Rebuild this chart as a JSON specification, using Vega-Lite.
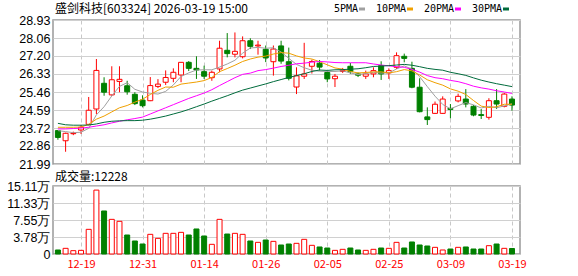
{
  "$schema": "https://vega.github.io/schema/vega-lite/v6.json",
  "background": "white",
  "padding": {"left": 5, "top": 2, "right": 0, "bottom": 0},
  "autosize": {"type": "pad"},
  "bounds": "flush",
  "spacing": 22,
  "config": {
    "view": {"stroke": "#999999", "strokeWidth": 1.5},
    "axis": {"labelFont": "Liberation Sans", "labelFontSize": 12.5, "labelColor": "#000000", "ticks": false, "domain": false, "gridColor": "#d0d0d0", "gridWidth": 1, "title": null, "labelOverlap": false, "labelFlush": false},
    "title": {"font": "Noto Sans CJK SC", "fontSize": 12, "fontWeight": "normal", "color": "#000000", "anchor": "start", "frame": "group"}
  },
  "datasets": {
    "k": [
      {"d":"12-16","o":23.60,"h":23.63,"l":23.16,"c":23.27,"vol":8900,"ma5":23.60,"ma10":23.76,"ma20":23.68,"ma30":23.95},
      {"d":"12-17","o":23.11,"h":23.50,"l":22.58,"c":23.47,"vol":12600,"ma5":23.55,"ma10":23.76,"ma20":23.68,"ma30":23.88},
      {"d":"12-18","o":23.45,"h":23.55,"l":23.38,"c":23.47,"vol":7400,"ma5":23.50,"ma10":23.76,"ma20":23.70,"ma30":23.86},
      {"d":"12-19","o":23.63,"h":23.87,"l":23.44,"c":23.76,"vol":8100,"ma5":23.52,"ma10":23.77,"ma20":23.72,"ma30":23.86},
      {"d":"12-22","o":23.90,"h":25.22,"l":23.85,"c":24.58,"vol":54800,"ma5":23.71,"ma10":23.90,"ma20":23.76,"ma30":23.87},
      {"d":"12-23","o":24.64,"h":27.05,"l":24.40,"c":26.50,"vol":142000,"ma5":24.36,"ma10":24.15,"ma20":23.82,"ma30":23.92},
      {"d":"12-24","o":25.88,"h":26.17,"l":25.28,"c":25.45,"vol":95600,"ma5":24.75,"ma10":24.30,"ma20":23.88,"ma30":24.00},
      {"d":"12-25","o":25.32,"h":26.70,"l":25.28,"c":26.05,"vol":77000,"ma5":25.27,"ma10":24.50,"ma20":23.97,"ma30":24.05},
      {"d":"12-26","o":25.97,"h":26.70,"l":25.45,"c":26.07,"vol":72600,"ma5":25.73,"ma10":24.70,"ma20":24.05,"ma30":24.07},
      {"d":"12-29","o":25.76,"h":26.00,"l":25.33,"c":25.47,"vol":42200,"ma5":25.91,"ma10":24.81,"ma20":24.12,"ma30":24.08},
      {"d":"12-30","o":25.35,"h":25.45,"l":24.83,"c":24.90,"vol":28900,"ma5":25.59,"ma10":24.97,"ma20":24.18,"ma30":24.08},
      {"d":"12-31","o":25.07,"h":25.30,"l":24.72,"c":24.80,"vol":22200,"ma5":25.46,"ma10":25.11,"ma20":24.25,"ma30":24.10},
      {"d":"01-05","o":25.04,"h":26.18,"l":25.02,"c":25.77,"vol":43700,"ma5":25.40,"ma10":25.34,"ma20":24.40,"ma30":24.15},
      {"d":"01-06","o":25.73,"h":26.08,"l":25.65,"c":25.84,"vol":34800,"ma5":25.36,"ma10":25.54,"ma20":24.55,"ma30":24.22},
      {"d":"01-07","o":25.93,"h":26.50,"l":25.80,"c":26.16,"vol":45900,"ma5":25.49,"ma10":25.70,"ma20":24.70,"ma30":24.30},
      {"d":"01-08","o":26.12,"h":26.60,"l":25.93,"c":26.41,"vol":45900,"ma5":25.80,"ma10":25.69,"ma20":24.85,"ma30":24.40},
      {"d":"01-09","o":26.28,"h":26.90,"l":25.93,"c":26.89,"vol":48100,"ma5":26.21,"ma10":25.84,"ma20":25.00,"ma30":24.50},
      {"d":"01-12","o":26.89,"h":26.95,"l":26.47,"c":26.60,"vol":42200,"ma5":26.38,"ma10":25.89,"ma20":25.15,"ma30":24.62},
      {"d":"01-13","o":26.60,"h":27.18,"l":26.09,"c":26.52,"vol":55600,"ma5":26.52,"ma10":25.94,"ma20":25.28,"ma30":24.75},
      {"d":"01-14","o":26.44,"h":26.73,"l":26.09,"c":26.22,"vol":40000,"ma5":26.53,"ma10":26.01,"ma20":25.41,"ma30":24.88},
      {"d":"01-15","o":26.15,"h":26.49,"l":26.00,"c":26.41,"vol":21500,"ma5":26.53,"ma10":26.16,"ma20":25.57,"ma30":25.02},
      {"d":"01-16","o":26.57,"h":27.93,"l":26.41,"c":27.57,"vol":77000,"ma5":26.66,"ma10":26.44,"ma20":25.77,"ma30":25.15},
      {"d":"01-19","o":27.47,"h":28.30,"l":27.13,"c":27.31,"vol":44400,"ma5":26.81,"ma10":26.59,"ma20":25.96,"ma30":25.28},
      {"d":"01-20","o":27.28,"h":28.33,"l":27.13,"c":27.42,"vol":45900,"ma5":26.99,"ma10":26.75,"ma20":26.15,"ma30":25.42},
      {"d":"01-21","o":27.16,"h":28.14,"l":27.08,"c":27.93,"vol":43700,"ma5":27.33,"ma10":26.93,"ma20":26.31,"ma30":25.55},
      {"d":"01-22","o":27.93,"h":28.05,"l":27.53,"c":27.66,"vol":28900,"ma5":27.58,"ma10":27.05,"ma20":26.37,"ma30":25.65},
      {"d":"01-23","o":27.68,"h":27.93,"l":27.26,"c":27.72,"vol":25900,"ma5":27.61,"ma10":27.14,"ma20":26.49,"ma30":25.75},
      {"d":"01-26","o":27.52,"h":27.70,"l":26.90,"c":27.10,"vol":31100,"ma5":27.57,"ma10":27.19,"ma20":26.54,"ma30":25.85},
      {"d":"01-27","o":26.92,"h":27.70,"l":26.25,"c":27.53,"vol":28100,"ma5":27.59,"ma10":27.29,"ma20":26.61,"ma30":25.96},
      {"d":"01-28","o":27.68,"h":27.93,"l":26.82,"c":26.95,"vol":20000,"ma5":27.39,"ma10":27.36,"ma20":26.69,"ma30":26.06},
      {"d":"01-29","o":26.92,"h":27.60,"l":26.02,"c":26.12,"vol":22200,"ma5":27.08,"ma10":27.33,"ma20":26.75,"ma30":26.16},
      {"d":"01-30","o":25.70,"h":26.65,"l":25.36,"c":26.24,"vol":23700,"ma5":26.79,"ma10":27.20,"ma20":26.82,"ma30":26.25},
      {"d":"02-02","o":26.22,"h":27.83,"l":26.09,"c":26.33,"vol":32600,"ma5":26.63,"ma10":27.10,"ma20":26.85,"ma30":26.34},
      {"d":"02-03","o":26.70,"h":27.02,"l":26.35,"c":26.93,"vol":19300,"ma5":26.51,"ma10":27.05,"ma20":26.90,"ma30":26.45},
      {"d":"02-04","o":26.85,"h":27.00,"l":26.49,"c":26.66,"vol":15600,"ma5":26.46,"ma10":26.92,"ma20":26.93,"ma30":26.52},
      {"d":"02-05","o":26.40,"h":26.49,"l":25.93,"c":26.09,"vol":13300,"ma5":26.45,"ma10":26.77,"ma20":26.91,"ma30":26.50},
      {"d":"02-06","o":26.10,"h":26.33,"l":25.70,"c":26.22,"vol":8100,"ma5":26.45,"ma10":26.62,"ma20":26.88,"ma30":26.53},
      {"d":"02-09","o":26.45,"h":26.62,"l":26.38,"c":26.50,"vol":10400,"ma5":26.48,"ma10":26.56,"ma20":26.87,"ma30":26.54},
      {"d":"02-10","o":26.70,"h":26.86,"l":26.33,"c":26.44,"vol":13300,"ma5":26.38,"ma10":26.45,"ma20":26.87,"ma30":26.56},
      {"d":"02-11","o":26.33,"h":26.40,"l":26.18,"c":26.27,"vol":8900,"ma5":26.30,"ma10":26.38,"ma20":26.87,"ma30":26.58},
      {"d":"02-12","o":26.22,"h":26.49,"l":26.09,"c":26.33,"vol":8100,"ma5":26.35,"ma10":26.40,"ma20":26.87,"ma30":26.63},
      {"d":"02-13","o":26.33,"h":26.65,"l":26.17,"c":26.49,"vol":10400,"ma5":26.41,"ma10":26.43,"ma20":26.81,"ma30":26.69},
      {"d":"02-24","o":26.73,"h":26.94,"l":26.04,"c":26.33,"vol":13300,"ma5":26.37,"ma10":26.43,"ma20":26.76,"ma30":26.71},
      {"d":"02-25","o":26.38,"h":26.60,"l":26.09,"c":26.49,"vol":12600,"ma5":26.38,"ma10":26.38,"ma20":26.72,"ma30":26.73},
      {"d":"02-26","o":26.65,"h":27.37,"l":26.57,"c":27.21,"vol":25900,"ma5":26.57,"ma10":26.44,"ma20":26.68,"ma30":26.76},
      {"d":"02-27","o":27.18,"h":27.31,"l":26.89,"c":27.08,"vol":13300,"ma5":26.72,"ma10":26.54,"ma20":26.65,"ma30":26.79},
      {"d":"03-02","o":26.60,"h":26.92,"l":25.64,"c":25.69,"vol":26700,"ma5":26.56,"ma10":26.48,"ma20":26.55,"ma30":26.75},
      {"d":"03-03","o":25.69,"h":26.12,"l":24.48,"c":24.51,"vol":20000,"ma5":26.20,"ma10":26.28,"ma20":26.42,"ma30":26.68},
      {"d":"03-04","o":24.26,"h":24.72,"l":23.87,"c":24.13,"vol":17800,"ma5":25.72,"ma10":26.05,"ma20":26.25,"ma30":26.60},
      {"d":"03-05","o":24.43,"h":25.00,"l":24.40,"c":24.87,"vol":14800,"ma5":25.26,"ma10":25.91,"ma20":26.15,"ma30":26.55},
      {"d":"03-06","o":24.43,"h":25.25,"l":24.40,"c":25.12,"vol":8900,"ma5":24.86,"ma10":25.79,"ma20":26.10,"ma30":26.51},
      {"d":"03-09","o":24.67,"h":24.88,"l":24.19,"c":24.62,"vol":11100,"ma5":24.65,"ma10":25.61,"ma20":26.02,"ma30":26.41},
      {"d":"03-10","o":25.03,"h":25.38,"l":24.96,"c":25.25,"vol":14800,"ma5":24.80,"ma10":25.50,"ma20":25.96,"ma30":26.34},
      {"d":"03-11","o":25.12,"h":25.60,"l":24.72,"c":24.88,"vol":15600,"ma5":24.95,"ma10":25.34,"ma20":25.86,"ma30":26.26},
      {"d":"03-12","o":24.77,"h":24.83,"l":24.29,"c":24.35,"vol":11100,"ma5":24.84,"ma10":25.05,"ma20":25.74,"ma30":26.14},
      {"d":"03-13","o":24.37,"h":24.64,"l":24.16,"c":24.33,"vol":11100,"ma5":24.69,"ma10":24.78,"ma20":25.66,"ma30":26.03},
      {"d":"03-16","o":24.24,"h":25.16,"l":24.13,"c":25.04,"vol":18500,"ma5":24.77,"ma10":24.71,"ma20":25.60,"ma30":25.94},
      {"d":"03-17","o":25.04,"h":25.60,"l":24.64,"c":24.88,"vol":22200,"ma5":24.70,"ma10":24.75,"ma20":25.52,"ma30":25.86},
      {"d":"03-18","o":24.77,"h":25.41,"l":24.72,"c":25.36,"vol":12600,"ma5":24.79,"ma10":24.87,"ma20":25.46,"ma30":25.79},
      {"d":"03-19","o":25.12,"h":25.25,"l":24.56,"c":24.83,"vol":12228,"ma5":24.89,"ma10":24.87,"ma20":25.39,"ma30":25.72}
    ]
  },
  "vconcat": [
    {
      "width": 467,
      "height": 144,
      "title": {"text": "盛剑科技[603324] 2026-03-19 15:00", "offset": -2, "dx": 2},
      "data": {"name": "k"},
      "encoding": {
        "x": {
          "field": "d", "type": "ordinal",
          "scale": {"type": "point", "padding": 0.84, "align": 0.38,
            "domain": ["12-16","12-17","12-18","12-19","12-22","12-23","12-24","12-25","12-26","12-29","12-30","12-31","01-05","01-06","01-07","01-08","01-09","01-12","01-13","01-14","01-15","01-16","01-19","01-20","01-21","01-22","01-23","01-26","01-27","01-28","01-29","01-30","02-02","02-03","02-04","02-05","02-06","02-09","02-10","02-11","02-12","02-13","02-24","02-25","02-26","02-27","03-02","03-03","03-04","03-05","03-06","03-09","03-10","03-11","03-12","03-13","03-16","03-17","03-18","03-19"]},
          "axis": {"values": ["12-19","12-31","01-14","01-26","02-05","02-25","03-09","03-19"], "labels": false, "grid": true, "gridDash": [4, 3], "gridColor": "#c8c8c8"}
        }
      },
      "layer": [
        {
          "mark": {"type": "rule", "strokeWidth": 1},
          "encoding": {
            "y": {"field": "l", "type": "quantitative",
              "scale": {"domain": [21.99, 28.93], "nice": false, "zero": false},
              "axis": {"values": [21.99, 22.86, 23.72, 24.59, 25.46, 26.33, 27.2, 28.06, 28.93], "tickCount": 20, "format": ".2f", "grid": true, "labelPadding": 3, "labelOverlap": false, "labelFlush": false}},
            "y2": {"field": "h"},
            "color": {"condition": {"test": "datum.c >= datum.o", "value": "#ff0000"}, "value": "#008000"}
          }
        },
        {
          "mark": {"type": "bar", "size": 5, "strokeWidth": 1},
          "encoding": {
            "y": {"field": "o", "type": "quantitative"},
            "y2": {"field": "c"},
            "fill": {"condition": {"test": "datum.c >= datum.o", "value": "#ffffff"}, "value": "#008000"},
            "stroke": {"condition": {"test": "datum.c >= datum.o", "value": "#ff0000"}, "value": "#008000"}
          }
        },
        {
          "transform": [{"fold": ["ma5", "ma10", "ma20", "ma30"], "as": ["ma", "mv"]}],
          "mark": {"type": "line", "strokeWidth": 1},
          "encoding": {
            "y": {"field": "mv", "type": "quantitative"},
            "color": {"field": "ma", "type": "nominal",
              "scale": {"domain": ["ma5", "ma10", "ma20", "ma30"], "range": ["#a0a0a0", "#f0a000", "#ff00ff", "#006b3c"]},
              "legend": {"title": null, "orient": "none", "legendX": 304, "legendY": -16, "direction": "horizontal",
                "labelExpr": "replace(datum.label, 'ma', '') + 'PMA'",
                "labelFont": "DejaVu Sans Mono", "labelFontSize": 10, "labelColor": "#000000",
                "symbolType": "stroke", "symbolStrokeWidth": 3, "symbolSize": 36,
                "labelAlign": "right", "labelOffset": -9, "columnPadding": 4}}
          }
        }
      ]
    },
    {
      "width": 467,
      "height": 68,
      "title": {"text": "成交量:12228", "offset": -4, "dx": 2},
      "data": {"name": "k"},
      "mark": {"type": "bar", "size": 5, "strokeWidth": 1},
      "encoding": {
        "x": {
          "field": "d", "type": "ordinal",
          "scale": {"type": "point", "padding": 0.84, "align": 0.38,
            "domain": ["12-16","12-17","12-18","12-19","12-22","12-23","12-24","12-25","12-26","12-29","12-30","12-31","01-05","01-06","01-07","01-08","01-09","01-12","01-13","01-14","01-15","01-16","01-19","01-20","01-21","01-22","01-23","01-26","01-27","01-28","01-29","01-30","02-02","02-03","02-04","02-05","02-06","02-09","02-10","02-11","02-12","02-13","02-24","02-25","02-26","02-27","03-02","03-03","03-04","03-05","03-06","03-09","03-10","03-11","03-12","03-13","03-16","03-17","03-18","03-19"]},
          "axis": {"values": ["12-19","12-31","01-14","01-26","02-05","02-25","03-09","03-19"], "grid": true, "gridDash": [4, 3], "gridColor": "#c8c8c8",
            "labelColor": "#ff0000", "labelFont": "Noto Sans CJK SC", "labelFontSize": 11, "labelPadding": 4, "labelAngle": 0}
        },
        "y": {"field": "vol", "type": "quantitative",
          "scale": {"domain": [0, 151100], "nice": false},
          "axis": {"values": [0, 37775, 75550, 113325, 151100], "tickCount": 20, "grid": true, "labelPadding": 3, "labelOverlap": false, "labelFlush": false,
            "labelExpr": "datum.value == 0 ? '0' : format(datum.value / 10000, '.2f') + '万'"}},
        "fill": {"condition": {"test": "datum.c >= datum.o", "value": "#ffffff"}, "value": "#008000"},
        "stroke": {"condition": {"test": "datum.c >= datum.o", "value": "#ff0000"}, "value": "#008000"}
      }
    }
  ]
}
